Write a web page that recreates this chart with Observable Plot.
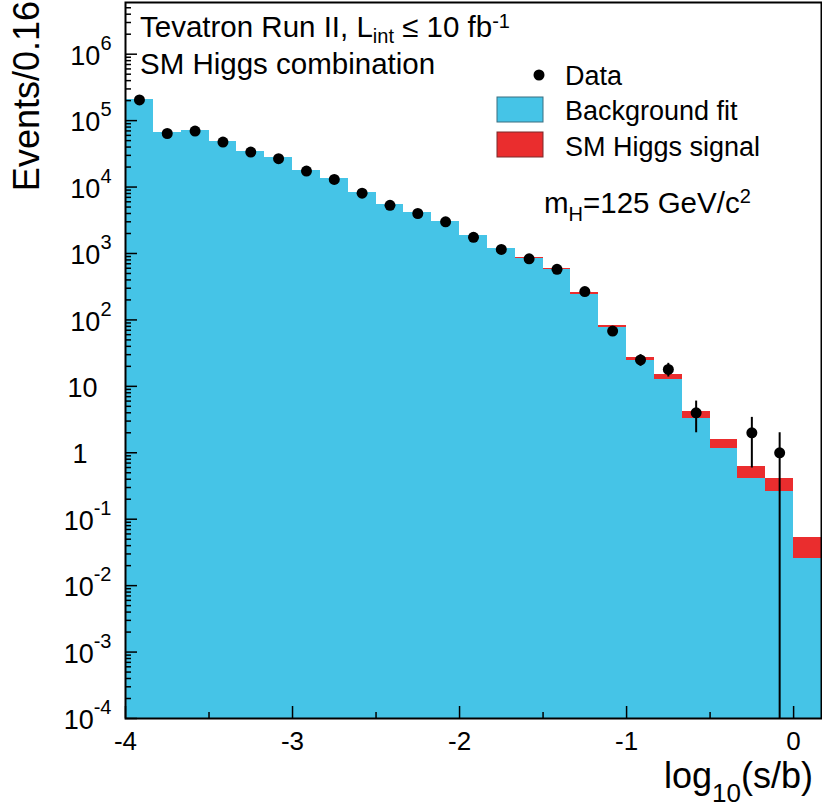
<!DOCTYPE html>
<html><head><meta charset="utf-8">
<script src="https://cdn.jsdelivr.net/npm/d3@7"></script>
<script src="https://cdn.jsdelivr.net/npm/@observablehq/plot@0.6"></script>
<style>html,body{margin:0;padding:0;background:#fff}svg{display:block}</style>
</head><body><div id="chart"></div>
<script>
// bins in log10(s/b)
const binLow  = [-4.000,-3.833,-3.667,-3.500,-3.333,-3.167,-3.000,-2.833,-2.667,-2.500,-2.333,-2.167,-2.000,-1.833,-1.667,-1.500,-1.333,-1.167,-1.000,-0.833,-0.667,-0.500,-0.333,-0.167,0.000];
const binHigh = [-3.833,-3.667,-3.500,-3.333,-3.167,-3.000,-2.833,-2.667,-2.500,-2.333,-2.167,-2.000,-1.833,-1.667,-1.500,-1.333,-1.167,-1.000,-0.833,-0.667,-0.500,-0.333,-0.167,0.000,0.167];
// background fit (events/bin)
const background = [2.1e5,6.7e4,7.1e4,4.85e4,3.45e4,2.8e4,1.78e4,1.35e4,8400,5450,4100,3050,1860,1170,840,570,245,77,24.8,12.5,3.28,1.18,0.417,0.257,0.0255];
// SM Higgs signal, mH = 125 GeV/c^2
const signal = [25,12,18,18,19,22,21,23,21,20,22,24,22,21,22,22,14,5.3,2.4,2.4,0.9,0.39,0.21,0.16,0.027];
// observed data and its error
const data    = [2.05e5,6.4e4,6.95e4,4.75e4,3.36e4,2.67e4,1.74e4,1.3e4,8100,5300,4000,3000,1750,1150,830,578,267,68,25,18,4,null,2,1,null];
const dataErr = [453,253,264,218,183,163,132,114,90,73,63,55,42,34,29,24,16,8.2,5,4.2,2,null,1.41,1,null];
// axis ticks
const xMajor = [-4,-3,-2,-1,0];
const xMinor = [-3.5,-2.5,-1.5,-0.5];
const yMajorExp = [-4,-3,-2,-1,0,1,2,3,4,5,6];
const yMinorMult = [2,3,4,5,6,7,8,9];

const BLUE = "#45c4e7", RED = "#ea2d2e";
const yMin = 1e-4, yMax = 6e6, xMinD = -4, xMaxD = 0.167;
const W = 822, H = 811, mL = 125, mR = 1, mT = 2, mB = 93;
const innerW = W - mL - mR, innerH = H - mT - mB;

const rows = binLow.map((x1, i) => ({
  x1, x2: binHigh[i], bg: background[i], sig: signal[i],
  tot: background[i] + signal[i], n: data[i], err: dataErr[i]
}));
const pts = rows.filter(d => d.n != null);
const mid = d => (d.x1 + d.x2) / 2;

const yMajor = yMajorExp.map(e => Math.pow(10, e));
const yMinor = [];
for (const e of yMajorExp) for (const m of yMinorMult) {
  const v = m * Math.pow(10, e);
  if (v < yMax) yMinor.push(v);
}
const fmtY = d => {
  const e = Math.round(Math.log10(d));
  return e === 0 ? "1" : e === 1 ? "10" : "10^" + e;
};

const plot = Plot.plot({
  width: W, height: H,
  marginLeft: mL, marginRight: mR, marginTop: mT, marginBottom: mB,
  style: {fontFamily: "'Liberation Sans', Arial, Helvetica, sans-serif", background: "white", color: "black"},
  x: {domain: [xMinD, xMaxD]},
  y: {type: "log", domain: [yMin, yMax]},
  marks: [
    Plot.rect(rows, {x1: "x1", x2: "x2", y1: "bg", y2: "tot", fill: RED, shapeRendering: "crispEdges"}),
    Plot.rect(rows, {x1: "x1", x2: "x2", y1: yMin, y2: "bg", fill: BLUE, shapeRendering: "crispEdges"}),
    Plot.ruleX(pts, {x: mid, y1: d => Math.max(d.n - d.err, yMin), y2: d => d.n + d.err, stroke: "black", strokeWidth: 2}),
    Plot.dot(pts, {x: mid, y: "n", r: 5.5, fill: "black"}),
    // inward ticks (pixel lengths via insets)
    Plot.tickY(yMinor, {y: d => d, insetRight: innerW - 6, stroke: "black", strokeWidth: 1.5}),
    Plot.tickY(yMajor, {y: d => d, insetRight: innerW - 12, stroke: "black", strokeWidth: 1.5}),
    Plot.tickX(xMinor, {x: d => d, insetTop: innerH - 6, stroke: "black", strokeWidth: 1.5}),
    Plot.tickX(xMajor, {x: d => d, insetTop: innerH - 12, stroke: "black", strokeWidth: 1.5}),
    // tick labels
    Plot.axisY(yMajor, {anchor: "left", tickSize: 0, tickPadding: 14, tickFormat: fmtY, label: null}),
    Plot.axisX(xMajor, {anchor: "bottom", tickSize: 0, tickPadding: 13, tickFormat: d => String(d), label: null}),
    Plot.frame({stroke: "black", strokeWidth: 2})
  ]
});
document.getElementById("chart").appendChild(plot);

const svg = d3.select(plot);
svg.selectAll('g[aria-label="x-axis tick label"] text').style("font-size", "26px");
// superscripts on y tick labels
svg.selectAll('g[aria-label="y-axis tick label"] text').each(function() {
  const t = d3.select(this).style("font-size", "27px");
  const s = t.text();
  const tt = t.append("tspan").attr("dy", 2);
  if (s.includes("^")) {
    const [b, e] = s.split("^");
    t.text(null);
    t.append("tspan").attr("dy", 2).text(b);
    t.append("tspan").style("font-size", "20px").attr("dy", -15).text(e);
  } else if (s === "1") {
    t.text(null);
    t.append("tspan").attr("dy", 2).text(s);
    t.attr("dx", -24);
  } else if (s === "10") {
    t.text(null);
    t.append("tspan").attr("dy", 2).text(s);
    t.attr("dx", -14);
  }
});

function rich(x, y, parts, size, opts = {}) {
  const t = svg.append("text").style("font-size", size + "px").attr("fill", "black")
    .attr("text-anchor", opts.anchor || "start");
  if (opts.rotate) t.attr("transform", `translate(${x},${y}) rotate(${opts.rotate})`);
  else t.attr("x", x).attr("y", y);
  let shift = 0;
  for (const p of parts) {
    const sp = t.append("tspan").text(p.t);
    const target = p.dy || 0;
    if (target !== shift) sp.attr("dy", target - shift);
    shift = target;
    if (p.size) sp.style("font-size", p.size + "px");
  }
  return t;
}

// titles
rich(140, 37, [{t: "Tevatron Run II, L"}, {t: "int", dy: 6, size: 20}, {t: " \u2264 10 fb"}, {t: "-1", dy: -9, size: 20}], 29.5);
rich(140, 74, [{t: "SM Higgs combination"}], 29.5);
rich(544, 213, [{t: "m"}, {t: "H", dy: 8, size: 20}, {t: "=125 GeV/c"}, {t: "2", dy: -10, size: 20}], 29.5);

// legend
svg.append("circle").attr("cx", 539).attr("cy", 75).attr("r", 5.5).attr("fill", "black");
svg.append("rect").attr("x", 497).attr("y", 97).attr("width", 46).attr("height", 25)
  .attr("fill", BLUE).attr("stroke", "#3a6f80").attr("stroke-width", 1);
svg.append("rect").attr("x", 497).attr("y", 132).attr("width", 46).attr("height", 25)
  .attr("fill", RED).attr("stroke", "#7a2a2a").attr("stroke-width", 1);
rich(565, 85, [{t: "Data"}], 27);
rich(565, 120, [{t: "Background fit"}], 27);
rich(565, 156, [{t: "SM Higgs signal"}], 27);

// axis titles
rich(813, 788, [{t: "log"}, {t: "10", dy: 14, size: 26}, {t: "(s/b)"}], 36, {anchor: "end"});
rich(38.5, 1, [{t: "Events/0.16"}], 36, {anchor: "end", rotate: -90});
</script>
</body></html>
